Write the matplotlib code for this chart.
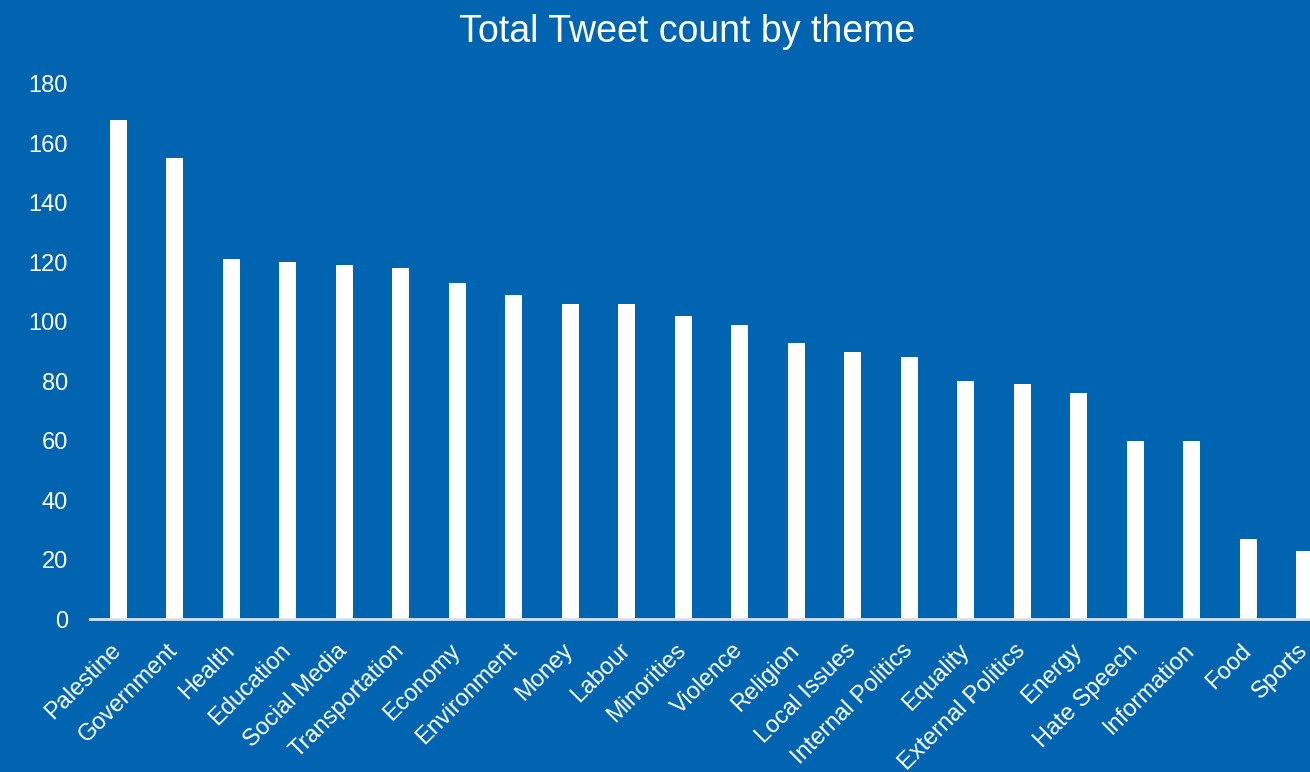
import matplotlib.pyplot as plt
import matplotlib.transforms as mtrans
import numpy as np

themes = ["Palestine", "Government", "Health", "Education", "Social Media",
          "Transportation", "Economy", "Environment", "Money", "Labour",
          "Minorities", "Violence", "Religion", "Local Issues",
          "Internal Politics", "Equality", "External Politics", "Energy",
          "Hate Speech", "Information", "Food", "Sports"]
counts = [168, 155, 121, 120, 119, 118, 113, 109, 106, 106, 102, 99,
          93, 90, 88, 80, 79, 76, 60, 60, 27, 23]
yticks = [0, 20, 40, 60, 80, 100, 120, 140, 160, 180]

bg = "#0064B0"
plt.rcParams['font.family'] = ['Liberation Sans', 'DejaVu Sans']

fig = plt.figure(figsize=(13.1, 7.72), dpi=100, facecolor=bg)
# axes runs past the right edge, the last bar is cut off like the reference
ax = fig.add_axes([90/1310, 153/772, 1243/1310, 535/772])
ax.set_facecolor(bg)

x = np.arange(len(themes))
ax.bar(x, counts, width=0.3, color="white", zorder=2)

ax.set_xlim(-0.5, len(themes) - 0.5)
ax.set_ylim(0, 180)
ax.set_yticks(yticks)
ax.set_xticks(x)
ax.set_xticklabels(themes, rotation=45, ha="right", va="top",
                   rotation_mode="anchor")
ax.tick_params(axis="both", length=0, colors="white", labelsize=17)
ax.tick_params(axis="y", pad=16)
ax.tick_params(axis="x", pad=14)

# nudge the rotated labels a little to the left
off = mtrans.ScaledTranslation(-8/100, -1/100, fig.dpi_scale_trans)
for lbl in ax.get_xticklabels():
    lbl.set_transform(lbl.get_transform() + off)

for s in ["top", "right", "left"]:
    ax.spines[s].set_visible(False)
ax.spines["bottom"].set_color("#d8e2ee")
ax.spines["bottom"].set_linewidth(2)

fig.text(687/1310, 1 - 32/772, "Total Tweet count by theme", color="white",
         fontsize=27, ha="center", va="center")

fig.savefig("out.png", dpi=100, facecolor=bg)
